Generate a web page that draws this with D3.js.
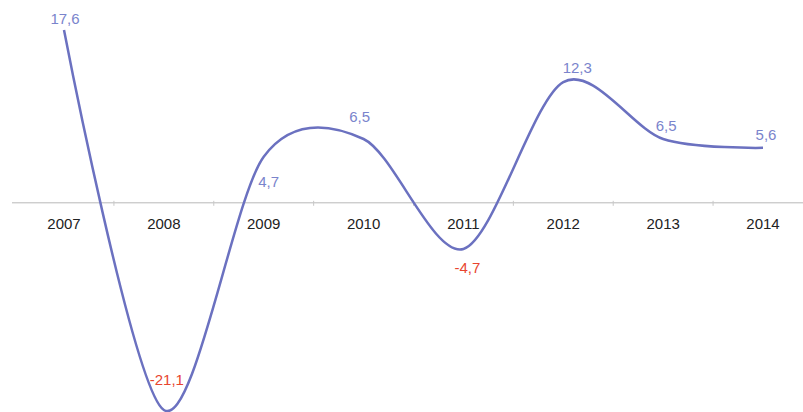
<!DOCTYPE html>
<html>
<head>
<meta charset="utf-8">
<script src="https://cdn.jsdelivr.net/npm/d3@7"></script>
<style>
  body { margin: 0; background: #fff; }
  text { font-family: "Liberation Sans", Arial, sans-serif; }
</style>
</head>
<body>
<div id="chart"></div>
<script>
var width = 803,
    height = 412;

var years = ['2007', '2008', '2009', '2010', '2011', '2012', '2013', '2014'];
var growth = [17.6, -21.1, 4.7, 6.5, -4.7, 12.3, 6.5, 5.6];
var valueLabels = ['17,6', '-21,1', '4,7', '6,5', '-4,7', '12,3', '6,5', '5,6'];
// where each value label sits relative to its point
var labelSide = ['top', 'inside', 'belowRight', 'high', 'below', 'aboveRight', 'above', 'above'];

var svg = d3.select('#chart')
    .append('svg')
    .attr('width', width)
    .attr('height', height);

var x = d3.scalePoint()
    .domain(years)
    .range([64, 763]);

var y = d3.scaleLinear()
    .domain([-21.1, 17.6])
    .range([410, 30]);

var step = x.step();

// axis line at zero
svg.append('line')
    .attr('x1', 12)
    .attr('x2', width)
    .attr('y1', y(0))
    .attr('y2', y(0))
    .attr('stroke', '#b8b8b8')
    .attr('stroke-width', 1);

// ticks between categories
svg.selectAll('.tick')
    .data(years.slice(1))
    .enter()
    .append('line')
    .attr('class', 'tick')
    .attr('x1', d => x(d) - step / 2)
    .attr('x2', d => x(d) - step / 2)
    .attr('y1', y(0) - 2)
    .attr('y2', y(0) + 3)
    .attr('stroke', '#c8c8c8');

svg.selectAll('.year')
    .data(years)
    .enter()
    .append('text')
    .attr('class', 'year')
    .attr('x', d => x(d))
    .attr('y', y(0) + 26)
    .attr('text-anchor', 'middle')
    .attr('font-size', 15)
    .attr('fill', '#222')
    .text(d => d);

var line = d3.line()
    .x((d, i) => x(years[i]))
    .y(d => y(d))
    .curve(d3.curveCardinal.tension(0.1));

svg.append('path')
    .datum(growth)
    .attr('d', line)
    .attr('fill', 'none')
    .attr('stroke', '#6b71c0')
    .attr('stroke-width', 2.5);

var offsets = {
    top: [1, -6],
    above: [3, -8],
    high: [-4, -17],
    aboveRight: [14, -9],
    inside: [3, -25],
    belowRight: [5, 30],
    below: [4, 24]
};

svg.selectAll('.val')
    .data(growth)
    .enter()
    .append('text')
    .attr('class', 'val')
    .attr('x', (d, i) => x(years[i]) + offsets[labelSide[i]][0])
    .attr('y', (d, i) => y(d) + offsets[labelSide[i]][1])
    .attr('text-anchor', 'middle')
    .attr('font-size', 15)
    .attr('fill', d => d < 0 ? '#e8452f' : '#7a84cc')
    .text((d, i) => valueLabels[i]);
</script>
</body>
</html>
